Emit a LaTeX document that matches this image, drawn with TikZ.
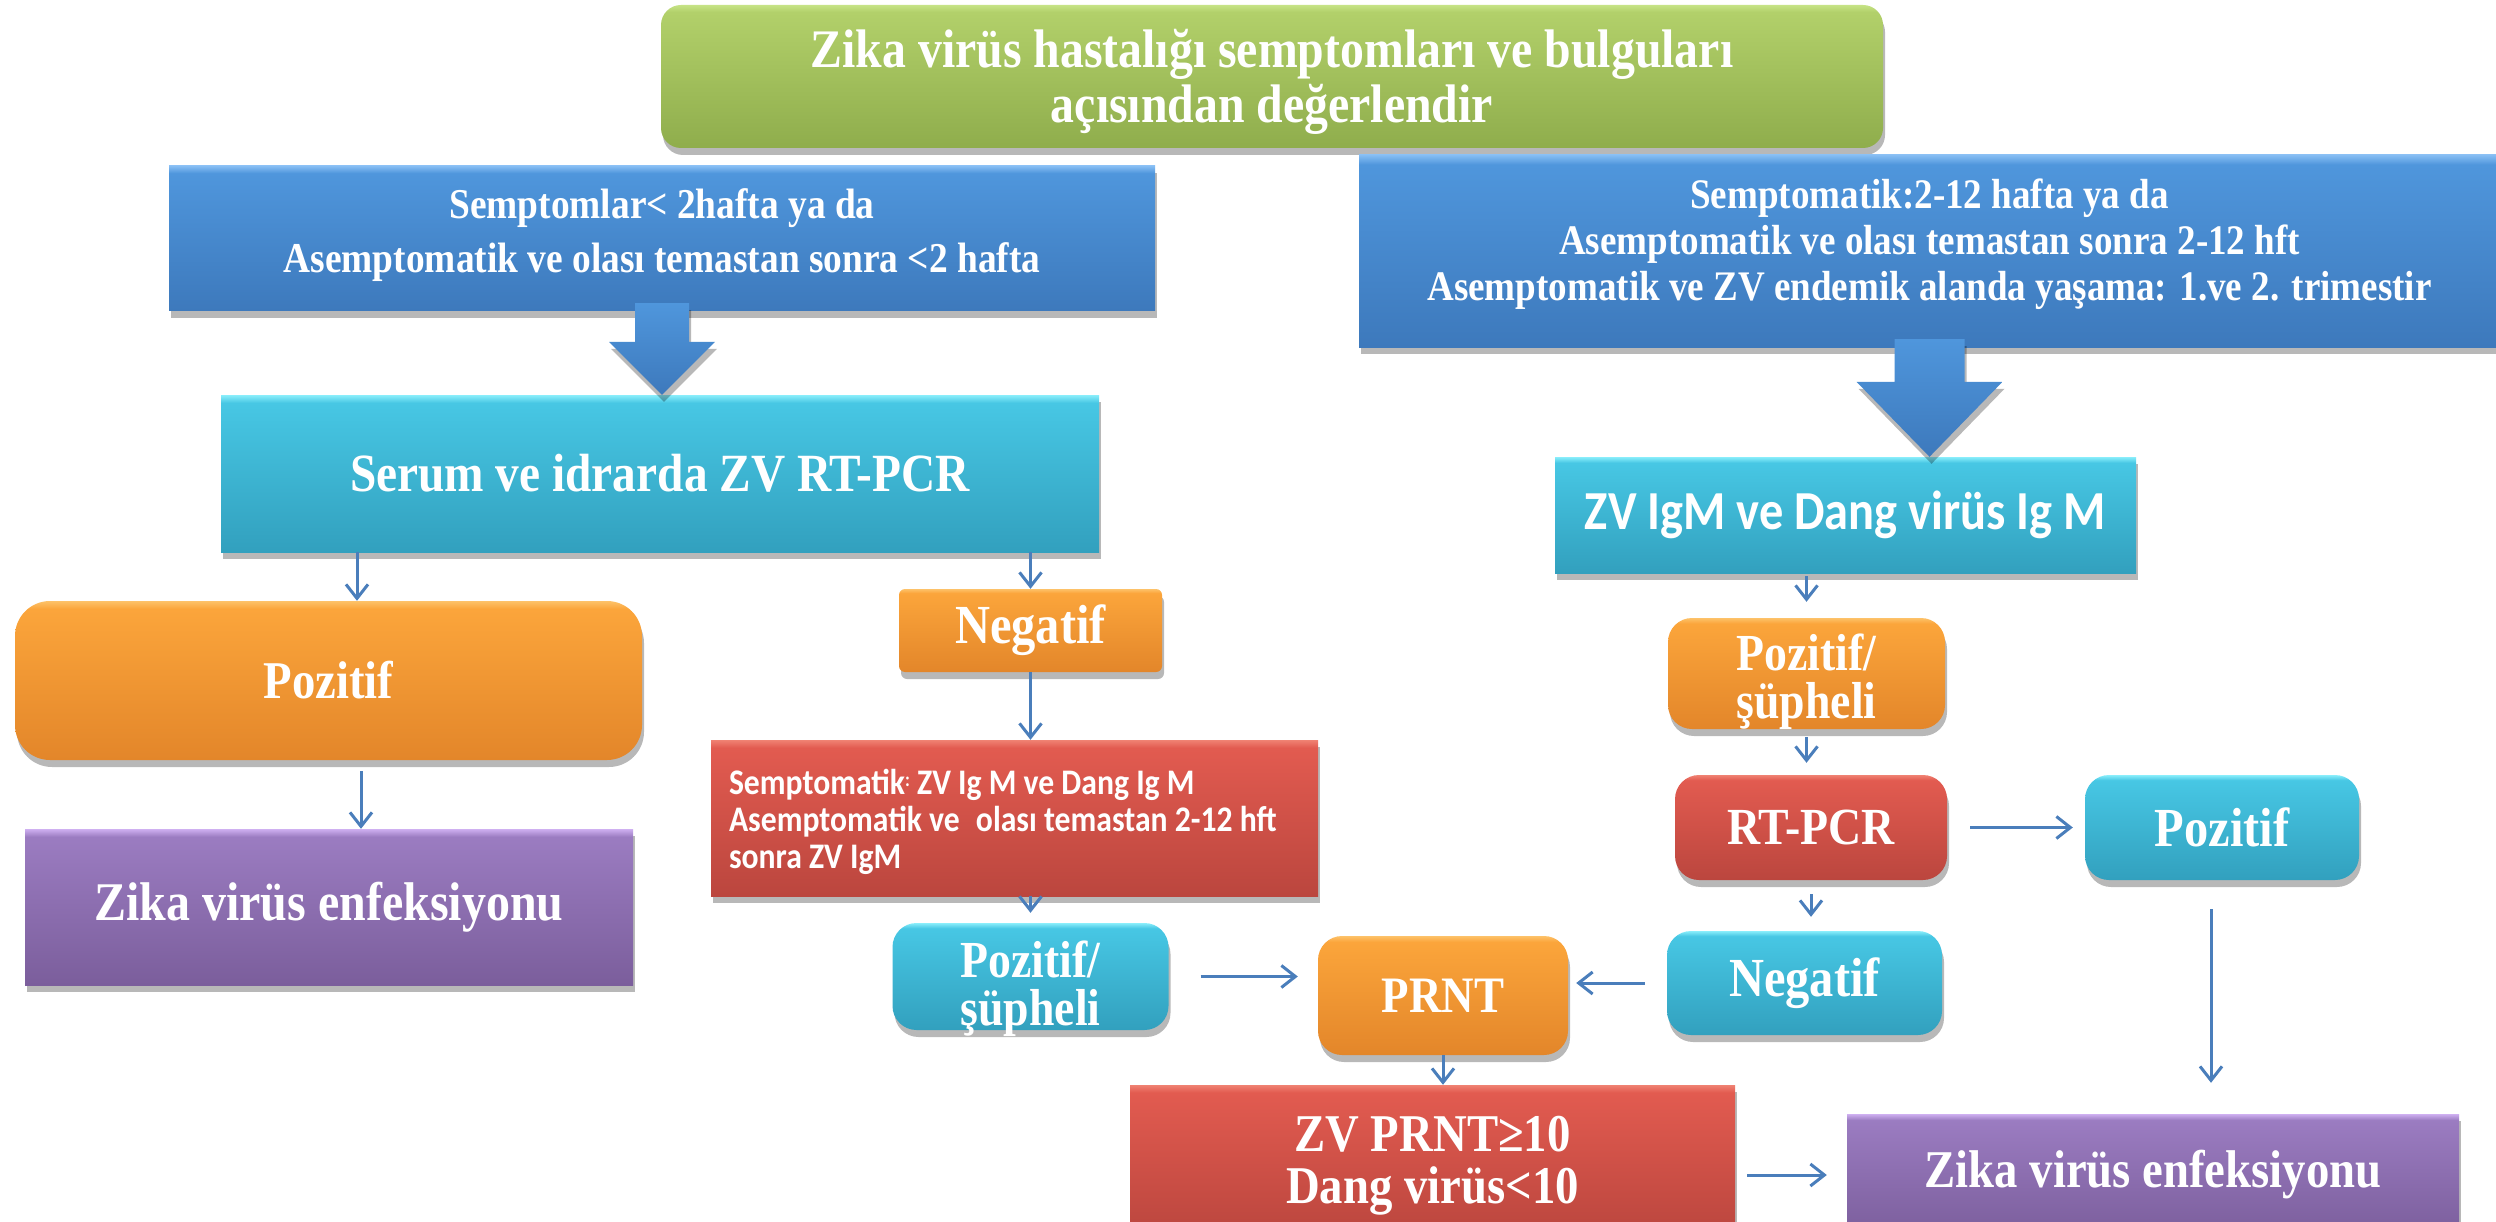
\documentclass[tikz,border=0pt]{standalone}
\usepackage{fontspec}
\usetikzlibrary{calc,shadows,arrows.meta}
\newfontfamily\serifc{Liberation Serif}[FakeStretch=0.88]
\newfontfamily\sansc{Carlito}[FakeStretch=0.88]
\newcommand\fSerif[2]{\serifc\bfseries\fontsize{#1}{#2}\selectfont}
\newcommand\fSans[2]{\sansc\bfseries\fontsize{#1}{#2}\selectfont}

\definecolor{arrowblue}{HTML}{4A7EBB}
\definecolor{gB}{HTML}{8FAD4C}\definecolor{gM}{HTML}{B2D06A}\definecolor{gT}{HTML}{C6E386}
\definecolor{bB}{HTML}{3D79BC}\definecolor{bM}{HTML}{4F96DC}\definecolor{bT}{HTML}{86BDF3}
\definecolor{cB}{HTML}{32A0BE}\definecolor{cM}{HTML}{47C7E4}\definecolor{cT}{HTML}{8AEEFB}
\definecolor{oB}{HTML}{E3862A}\definecolor{oM}{HTML}{FBA53B}\definecolor{oT}{HTML}{FDC269}
\definecolor{rB}{HTML}{BB463E}\definecolor{rM}{HTML}{E25B50}\definecolor{rT}{HTML}{F08273}
\definecolor{pB}{HTML}{7B5E9C}\definecolor{pM}{HTML}{9B7CC1}\definecolor{pT}{HTML}{CFB0F1}

\pgfdeclareverticalshading{greenS}{100bp}{color(0bp)=(gB); color(25bp)=(gB); color(72.5bp)=(gM); color(75bp)=(gT); color(100bp)=(gT)}
\pgfdeclareverticalshading{blueS}{100bp}{color(0bp)=(bB); color(25bp)=(bB); color(72.5bp)=(bM); color(75bp)=(bT); color(100bp)=(bT)}
\pgfdeclareverticalshading{blueA}{100bp}{color(0bp)=(bB); color(25bp)=(bB); color(75bp)=(bM); color(100bp)=(bM)}
\pgfdeclareverticalshading{cyanS}{100bp}{color(0bp)=(cB); color(25bp)=(cB); color(72.5bp)=(cM); color(75bp)=(cT); color(100bp)=(cT)}
\pgfdeclareverticalshading{orangeS}{100bp}{color(0bp)=(oB); color(25bp)=(oB); color(72.5bp)=(oM); color(75bp)=(oT); color(100bp)=(oT)}
\pgfdeclareverticalshading{redS}{100bp}{color(0bp)=(rB); color(25bp)=(rB); color(72.5bp)=(rM); color(75bp)=(rT); color(100bp)=(rT)}
\pgfdeclareverticalshading{purpleS}{100bp}{color(0bp)=(pB); color(25bp)=(pB); color(72.5bp)=(pM); color(75bp)=(pT); color(100bp)=(pT)}

\tikzset{
  shad/.style={drop shadow={shadow xshift=2pt,shadow yshift=-7pt,opacity=.28,fill=black}},
  basebox/.style={shade, draw=none, text=white, align=flush center, inner sep=0pt, shad},
  greenbox/.style={basebox, shading=greenS},
  bluebox/.style={basebox, shading=blueS},
  cyanbox/.style={basebox, shading=cyanS},
  orangebox/.style={basebox, shading=orangeS},
  redbox/.style={basebox, shading=redS},
  purplebox/.style={basebox, shading=purpleS},
  txt/.style={text=white, align=flush center, inner sep=0pt},
  conn/.style={draw=arrowblue, line width=3pt, -{Straight Barb[length=14pt,width=22pt]}},
  barrowst/.style={shade, shading=blueA, draw=none, shad}
}
\newcommand\blockarrow[5]{%
  \path[barrowst] ($(#1)+(-#3,0)$) -- ($(#2)+(-#3,-#5)$) -- ($(#2)+(-#4,-#5)$) -- (#2)
    -- ($(#2)+(#4,-#5)$) -- ($(#2)+(#3,-#5)$) -- ($(#1)+(#3,0)$) -- cycle;}

\begin{document}
\begin{tikzpicture}[x=1pt,y=-1pt]
\useasboundingbox (0,0) rectangle (2496,1222);
\fill[white] (0,0) rectangle (2496,1222);

% top
\node[greenbox, rounded corners=20pt, minimum width=1222pt, minimum height=143pt,
  label={[txt, font={\fSerif{54.3}{55}}, yshift=-5.5pt]center:{Zika virüs hastalığı semptomları ve bulguları\\açısından değerlendir}}] (title) at (1272,76.5) {};

\node[bluebox, minimum width=986pt, minimum height=145pt,
  label={[txt, font={\fSerif{42.5}{54}}, yshift=3pt]center:{Semptomlar< 2hafta ya da\\Asemptomatik ve olası temastan sonra <2 hafta}}] (lb) at (662,238.5) {};
\node[bluebox, minimum width=1141pt, minimum height=192pt,
  label={[txt, font={\fSerif{42.1}{46}}, yshift=6.5pt]center:{Semptomatik:2-12 hafta ya da\\Asemptomatik ve olası temastan sonra 2-12 hft\\Asemptomatik ve ZV endemik alanda yaşama: 1.ve 2. trimestir}}] (rb) at (1929.5,251) {};

% left branch
\node[cyanbox, minimum width=878pt, minimum height=157pt, font={\fSerif{53.8}{56}}] (serum) at (660,473.5) {Serum ve idrarda ZV RT-PCR};
\node[orangebox, rounded corners=35pt, minimum width=627pt, minimum height=159pt, font={\fSerif{53.1}{56}}] (pozL) at (328.5,680.5) {Pozitif};
\node[purplebox, minimum width=608pt, minimum height=156pt, font={\fSerif{54.5}{56}}] (zikaL) at (329,907) {Zika virüs enfeksiyonu};
\node[orangebox, rounded corners=6pt, minimum width=263pt, minimum height=83pt, font={\fSerif{55.1}{56}}] (negL) at (1030.5,630.5) {Negatif};
\node[redbox, minimum width=607pt, minimum height=156pt,
  label={[txt, align=flush left, text width=571pt, font={\fSans{36}{37}}, yshift=-3.5pt]center:{Semptomatik{\fontsize{20}{20}\selectfont\raisebox{8pt}{:}} ZV Ig M ve Dang Ig M\\Asemptomatik ve\hspace{0.45em}olası temastan 2-12 hft\\sonra ZV IgM}}] (redL) at (1014.5,818) {};
\node[cyanbox, rounded corners=24pt, minimum width=276pt, minimum height=107pt,
  label={[txt, font={\fSerif{52}{48}}, yshift=-12.5pt]center:{Pozitif/\\şüpheli}}] (pssL) at (1030.5,976.5) {};
\node[orangebox, rounded corners=24pt, minimum width=250pt, minimum height=119pt, font={\fSerif{51.1}{56}}] (prnt) at (1443,995.5) {PRNT};
\node[redbox, minimum width=605pt, minimum height=150pt,
  label={[txt, font={\fSerif{53.1}{52}}, yshift=-5.5pt]center:{ZV PRNT≥10\\Dang virüs<10}}] (zvprnt) at (1432.5,1160) {};
\node[purplebox, minimum width=612pt, minimum height=122pt, font={\fSerif{53.1}{56}}] (zikaR) at (2153,1175) {Zika virüs enfeksiyonu};

% right branch
\node[cyanbox, minimum width=581pt, minimum height=116pt, font={\fSans{55}{56}}] (zvigm) at (1845.5,515) {ZV IgM ve Dang virüs Ig M};
\node[orangebox, rounded corners=24pt, minimum width=277pt, minimum height=111pt,
  label={[txt, font={\fSerif{52}{48}}, yshift=-8pt]center:{Pozitif/\\şüpheli}}] (pssR) at (1806.5,673.5) {};
\node[redbox, rounded corners=24pt, minimum width=272pt, minimum height=105pt, font={\fSerif{52.1}{56}}] (rtpcr) at (1811,827.5) {RT-PCR};
\node[cyanbox, rounded corners=24pt, minimum width=274pt, minimum height=105pt, font={\fSerif{55.1}{56}}] (pozR) at (2222,827.5) {Pozitif};
\node[cyanbox, rounded corners=24pt, minimum width=275pt, minimum height=104pt, font={\fSerif{55.1}{56}}] (negR) at (1804.5,983) {Negatif};

% block arrows
\coordinate (la1) at ($(lb.south)+(0,-8)$);
\coordinate (la2) at (lb.south |- serum.north);
\blockarrow{la1}{la2}{27}{53}{53}
\coordinate (ra1) at ($(rb.south)+(0,-8)$);
\coordinate (ra2) at (rb.south |- zvigm.north);
\blockarrow{ra1}{ra2}{35}{73}{75}

% connectors
\coordinate (a1) at ($(pozL.north)+(28.5,0)$);
\draw[conn] (a1 |- serum.south) -- (a1);
\coordinate (a2) at ($(pozL.south)+(32.5,0)$);
\draw[conn, shorten <=11pt] (a2) -- (a2 |- zikaL.north);
\draw[conn] (negL.north |- serum.south) -- (negL.north);
\draw[conn] (negL.south) -- (negL.south |- redL.north);
\draw[conn, shorten >=10pt] (pssL.north |- redL.south) -- (pssL.north);
\draw[conn, shorten <=32pt, shorten >=20pt] (pssL.east) -- (prnt.west |- pssL.east);
\draw[conn, shorten <=22pt, shorten >=8pt] (negR.west) -- (prnt.east |- negR.west);
\draw[conn] (prnt.south) -- (prnt.south |- zvprnt.north);
\draw[conn, shorten <=12pt, shorten >=20pt] (zvprnt.east |- zikaR.west) -- (zikaR.west);
\draw[conn, shorten <=3pt, shorten >=16pt] (pssR.north |- zvigm.south) -- (pssR.north);
\draw[conn, shorten <=8pt, shorten >=12pt] (pssR.south) -- (pssR.south |- rtpcr.north);
\draw[conn, shorten <=14pt, shorten >=14pt] (rtpcr.south) -- (rtpcr.south |- negR.north);
\draw[conn, shorten <=23pt, shorten >=12pt] (rtpcr.east) -- (pozR.west);
\coordinate (a14) at ($(pozR.south)+(-11,0)$);
\draw[conn, shorten <=29pt, shorten >=31pt] (a14) -- (a14 |- zikaR.north);
\end{tikzpicture}
\end{document}
